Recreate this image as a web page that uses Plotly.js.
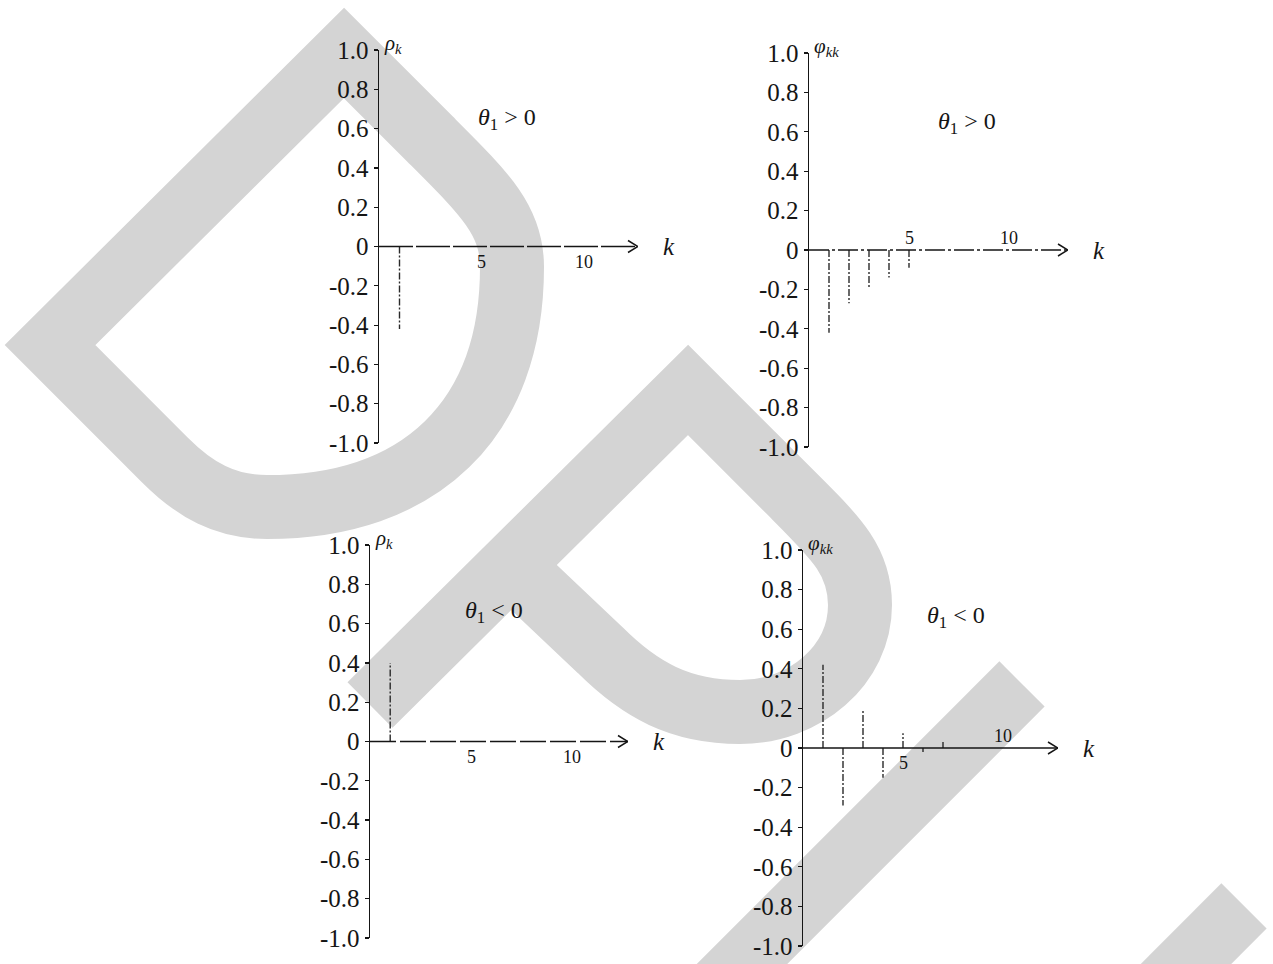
<!DOCTYPE html>
<html>
<head>
<meta charset="utf-8">
<script src="https://cdn.plot.ly/plotly-3.0.1.min.js"></script>
<style>
  html, body { margin: 0; padding: 0; background: #fff; }
  #chart { width: 1273px; height: 964px; }
</style>
</head>
<body>
<div id="chart"></div>
<script>
// MA(1) process: autocorrelation (rho_k) and partial autocorrelation (phi_kk)
// for theta_1 > 0 and theta_1 < 0.

const acfPosLags  = [1];
const acfPosVals  = [-0.42];

const pacfPosLags = [1, 2, 3, 4, 5];
const pacfPosVals = [-0.42, -0.27, -0.19, -0.14, -0.09];

const acfNegLags  = [1];
const acfNegVals  = [0.40];

const pacfNegLags = [1, 2, 3, 4, 5, 6, 7];
const pacfNegVals = [0.42, -0.29, 0.19, -0.15, 0.075, -0.02, 0.03];

const yTickVals = [1, 0.8, 0.6, 0.4, 0.2, 0, -0.2, -0.4, -0.6, -0.8, -1];
const yTickText = ['1.0', '0.8', '0.6', '0.4', '0.2', '0', '-0.2', '-0.4', '-0.6', '-0.8', '-1.0'];

const xTickVals = [5, 10];
const xTickText = ['5', '10'];

const yTitles = ['ρ<sub>k</sub>', 'φ<sub>kk</sub>', 'ρ<sub>k</sub>', 'φ<sub>kk</sub>'];
const caseText = ['<i>θ</i><sub>1</sub> > 0', '<i>θ</i><sub>1</sub> > 0',
                  '<i>θ</i><sub>1</sub> < 0', '<i>θ</i><sub>1</sub> < 0'];

// ---- page geometry (pixels) ----
const W = 1273, H = 964;
const px = x => x / W;
const py = y => 1 - y / H;

const SERIF = 'Liberation Serif, Times New Roman, serif';
const INK = '#151515';

// left: pixel of k = 0, right: pixel of arrow tip, top/bottom: pixels of +1 / -1
const panels = [
  { lags: acfPosLags,  vals: acfPosVals,  left: 379, right: 638,  top: 50,  bottom: 443, perUnit: 20.5,
    tickSide: [1, 1],  caseAt: [6.25, 0.65], axisDash: '34px,3px' },
  { lags: pacfPosLags, vals: pacfPosVals, left: 809, right: 1068, top: 53,  bottom: 447, perUnit: 20.0,
    tickSide: [-1, -1], caseAt: [7.9, 0.645], axisDash: '20px,3px,3px,3px' },
  { lags: acfNegLags,  vals: acfNegVals,  left: 370, right: 628,  top: 545, bottom: 938, perUnit: 20.2,
    tickSide: [1, 1],  caseAt: [6.15, 0.66], axisDash: '26px,4px' },
  { lags: pacfNegLags, vals: pacfNegVals, left: 803, right: 1058, top: 550, bottom: 946, perUnit: 20.0,
    tickSide: [1, -1], caseAt: [7.65, 0.66], axisDash: 'solid' }
];

const traces = [];
const shapes = [];
const annotations = [];
const layout = {
  width: W, height: H,
  margin: { l: 0, r: 0, t: 0, b: 0, pad: 0 },
  paper_bgcolor: '#fff', plot_bgcolor: 'rgba(0,0,0,0)',
  showlegend: false,
  font: { family: SERIF, color: INK }
};

panels.forEach((p, i) => {
  const n = i + 1;
  const xa = n === 1 ? 'x' : 'x' + n;
  const ya = n === 1 ? 'y' : 'y' + n;
  const xmax = (p.right - p.left) / p.perUnit;

  layout['xaxis' + (n === 1 ? '' : n)] = {
    domain: [px(p.left), px(p.right)], range: [0, xmax],
    visible: false, fixedrange: true, anchor: ya
  };
  layout['yaxis' + (n === 1 ? '' : n)] = {
    domain: [py(p.bottom), py(p.top)], range: [-1, 1], anchor: xa,
    showline: true, linecolor: INK, linewidth: 1.4, mirror: false,
    ticks: 'outside', ticklen: 4, tickwidth: 1.2, tickcolor: INK,
    tickvals: yTickVals, ticktext: yTickText,
    tickfont: { family: SERIF, size: 25, color: INK },
    showgrid: false, zeroline: false, fixedrange: true
  };

  // spikes, one vertical segment per lag
  const xs = [], ys = [];
  p.lags.forEach((k, j) => { xs.push(k, k, null); ys.push(0, p.vals[j], null); });
  traces.push({
    type: 'scatter', mode: 'lines', x: xs, y: ys, xaxis: xa, yaxis: ya,
    line: { color: '#2a2a2a', width: 1.4, dash: '7px,2px,2px,2px' },
    hoverinfo: 'skip', connectgaps: false
  });

  // horizontal k axis with open arrow head
  shapes.push({
    type: 'line', xref: xa, yref: ya, x0: 0, x1: xmax, y0: 0, y1: 0, layer: 'above',
    line: { color: INK, width: 1.4, dash: p.axisDash }
  });
  shapes.push({
    type: 'path', xref: xa, yref: ya, xsizemode: 'pixel', ysizemode: 'pixel',
    xanchor: xmax, yanchor: 0, path: 'M -10,6 L 0,0 L -10,-6', layer: 'above',
    line: { color: INK, width: 1.5 }
  });

  // k tick labels along the horizontal axis
  xTickVals.forEach((v, j) => {
    const side = p.tickSide[j];
    annotations.push({
      xref: xa, yref: ya, x: v, y: 0, text: xTickText[j], showarrow: false,
      yanchor: side > 0 ? 'top' : 'bottom', yshift: side > 0 ? -3 : 0,
      font: { family: SERIF, size: 18, color: INK }
    });
  });

  annotations.push({
    xref: xa, yref: ya, x: xmax, y: 0, xshift: 31, text: '<i>k</i>', showarrow: false,
    font: { family: SERIF, size: 25, color: INK }
  });
  annotations.push({
    xref: xa, yref: ya, x: 0, y: 1, xanchor: 'left', yanchor: 'bottom', xshift: 3, yshift: -9,
    text: '<i>' + yTitles[i] + '</i>', showarrow: false,
    font: { family: SERIF, size: 21, color: INK }
  });
  annotations.push({
    xref: xa, yref: ya, x: p.caseAt[0], y: p.caseAt[1], text: caseText[i], showarrow: false,
    font: { family: SERIF, size: 24, color: INK }
  });
});

// ---- grey "DP" backdrop strokes, given in page pixels ----
const backdrop = [
  [['M', 267, 507], ['C', 225, 507, 195, 490, 165, 460], ['L', 50, 345], ['L', 344, 53],
   ['L', 430, 139], ['C', 485, 194, 512, 220, 512, 267], ['C', 512, 420, 420, 507, 267, 507], ['Z']],
  [['M', 370, 705], ['L', 688, 390], ['L', 790, 492], ['C', 835, 537, 860, 560, 860, 605],
   ['C', 860, 665, 805, 712, 740, 712], ['C', 680, 712, 640, 690, 600, 650], ['L', 505, 560]],
  [['M', 1022, 684], ['L', 700, 1006]],
  [['M', 1244, 906], ['L', 1144, 1006]]
];
function toPaperPath(segs) {
  return segs.map(s => {
    const cmd = s[0];
    const nums = s.slice(1);
    const out = [];
    for (let i = 0; i < nums.length; i += 2) {
      out.push(px(nums[i]).toFixed(5) + ',' + py(nums[i + 1]).toFixed(5));
    }
    return cmd + ' ' + out.join(' ');
  }).join(' ');
}
backdrop.forEach(segs => {
  shapes.push({
    type: 'path', xref: 'paper', yref: 'paper', layer: 'below',
    path: toPaperPath(segs), fillcolor: 'rgba(0,0,0,0)',
    line: { color: '#d4d4d4', width: 64 }
  });
});

layout.shapes = shapes;
layout.annotations = annotations;

Plotly.newPlot('chart', traces, layout, { displayModeBar: false, staticPlot: true });
</script>
</body>
</html>
